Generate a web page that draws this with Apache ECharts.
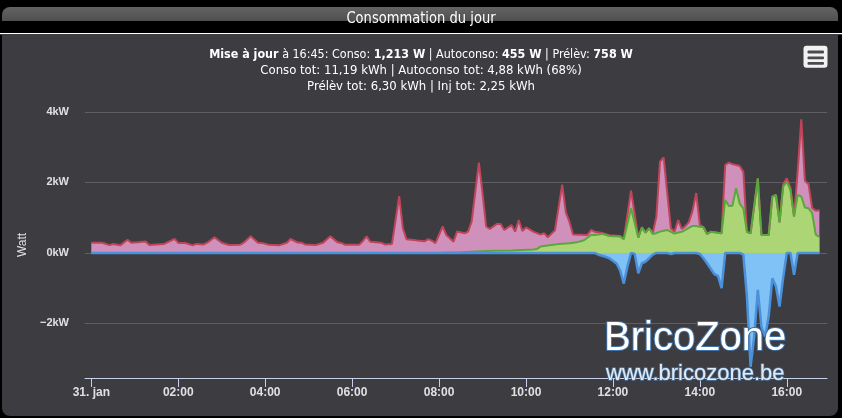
<!DOCTYPE html>
<html><head><meta charset="utf-8">
<script src="https://cdn.jsdelivr.net/npm/echarts@6/dist/echarts.min.js"></script>
<style>html,body{margin:0;padding:0;background:#000;}#c{width:842px;height:418px;}</style>
</head><body><div id="c"></div>
<script>
// x values are minutes since 00:00 on 31 January
const xTickMinutes = [0,120,240,360,480,600,720,840,960];
const yTickValues = [-2000,0,2000,4000];

const consoTimes = [0,15,25,30,40,50,55,65,75,80,100,115,120,130,140,145,155,160,170,180,190,205,210,220,230,235,245,260,270,275,285,290,295,310,320,330,340,345,350,370,375,380,385,400,405,415,425,430,435,445,450,460,465,470,475,485,490,500,505,515,520,525,535,540,545,550,560,565,570,580,585,590,595,600,610,620,625,630,640,650,655,660,665,685,690,695,705,715,730,735,745,755,760,765,770,775,780,785,790,795,800,805,810,815,820,825,830,835,840,845,850,855,860,865,870,875,880,885,890,895,900,905,910,920,925,935,940,945,950,955,960,965,970,975,980,985,990,995,1000,1005];
const consoValues = [290,290,220,255,215,375,290,300,325,225,250,400,285,280,215,255,240,290,440,290,225,230,285,470,290,285,230,220,290,395,295,290,240,225,290,470,300,285,235,235,340,470,320,290,240,250,1610,700,390,370,350,330,390,350,280,750,510,320,610,560,600,890,2560,1700,750,680,825,820,650,790,605,936,624,725,605,520,560,444,640,1940,1150,880,520,510,652,600,565,500,480,400,1768,440,728,577,700,560,1031,2591,2714,1700,700,600,936,680,760,880,1200,1700,794,730,540,600,590,570,557,2496,2563,2520,2496,2468,2300,600,557,2118,510,510,1598,1645,870,1950,2118,1850,1035,2300,3790,2050,1950,1270,1200,1213];

const autoTimes = [0,480,510,555,580,610,615,620,635,645,660,670,680,690,695,705,715,730,735,745,755,760,765,770,775,780,785,795,805,815,830,835,840,845,850,855,860,865,870,875,880,885,890,895,900,905,910,920,925,935,940,945,950,955,960,965,970,975,980,985,990,995,1000,1005];
const autoValues = [0,0,20,60,70,100,110,180,225,250,274,300,360,510,510,540,480,463,390,1267,435,728,577,700,540,560,605,652,550,600,766,766,740,730,540,600,590,570,557,1504,1333,1340,1834,1400,1267,600,557,2118,510,510,1598,1645,870,1881,2024,1787,1035,1645,1600,1290,1270,1125,520,455];

const injTimes = [0,695,700,710,715,725,730,735,740,745,750,755,760,765,770,775,780,795,800,805,835,840,845,850,855,860,865,870,875,895,900,905,910,915,920,925,930,935,940,945,950,955,960,965,970,975,1005];
const injValues = [0,0,-50,-110,-150,-300,-500,-870,-390,0,-20,-577,-293,-246,-150,-50,0,0,-30,0,0,-30,-150,-293,-450,-600,-650,-1000,0,0,-50,-1240,-3230,-2375,-1050,-2100,-2375,-1806,-719,-955,-1523,-700,0,0,-624,0,0];

const subtitleLines = [
  '{b|Mise à jour}{n| à 16:45: Conso: }{b|1,213 W}{n| | Autoconso: }{b|455 W}{n| | Prélèv: }{b|758 W}',
  '{n|Conso tot: 11,19 kWh | Autoconso tot: 4,88 kWh (68%)}',
  '{n|Prélèv tot: 6,30 kWh | Inj tot: 2,25 kWh}'
];

function pairs(ts, vs){ return ts.map((t,i)=>[t, vs[i]]); }
function pad(n){ return (n<10?'0':'')+n; }

const chart = echarts.init(document.getElementById('c'), null, {renderer:'canvas'});
const condensed = '"DejaVu Sans Condensed","DejaVu Sans",sans-serif';
const richStyles = {
  n: {fill:'#ffffff', fontSize:13, fontFamily:condensed},
  b: {fill:'#ffffff', fontSize:13, fontWeight:'bold', fontFamily:condensed}
};
const subY = [55, 71, 86.5];
const subScale = [0.955, 1.0, 1.0];

const graphics = [
  {type:'rect', z:-10, shape:{x:2,y:7,width:836,height:16,r:[8,8,0,0]},
   style:{fill:new echarts.graphic.LinearGradient(0,0,0,1,[{offset:0,color:'#646464'},{offset:1,color:'#4c4c4c'}])}},
  {type:'rect', z:-10, shape:{x:2,y:21,width:836,height:12}, style:{fill:'#000'}},
  {type:'rect', z:-10, shape:{x:0,y:33,width:842,height:1.3}, style:{fill:'#ffffff'}},
  {type:'rect', z:-10, shape:{x:2,y:34.3,width:836,height:381.7,r:[0,0,8,8]}, style:{fill:'#3d3c41'}},
  {type:'text', z:5, x:421, y:19.5, scaleX:0.97, style:{x:0,y:0,text:'Consommation du jour',fill:'#ffffff',font:'15px '+condensed,align:'center',verticalAlign:'middle'}},
  {type:'rect', z:5, shape:{x:803.5,y:45.8,width:24,height:22,r:3}, style:{fill:'#f2f2f2'}},
  {type:'rect', z:6, shape:{x:807.5,y:50.6,width:16.5,height:2.8,r:1}, style:{fill:'#4a4a4e'}},
  {type:'rect', z:6, shape:{x:807.5,y:56.4,width:16.5,height:2.8,r:1}, style:{fill:'#4a4a4e'}},
  {type:'rect', z:6, shape:{x:807.5,y:62.0,width:16.5,height:2.8,r:1}, style:{fill:'#4a4a4e'}},
  {type:'text', z:100, style:{x:604,y:338.5,text:'BricoZone',fill:'#ffffff',stroke:'#3f72a8',lineWidth:2,font:'40px "Liberation Sans",Arial,sans-serif',align:'left',verticalAlign:'middle'}},
  {type:'text', z:100, style:{x:606,y:374,text:'www.bricozone.be',fill:'rgba(255,255,255,0.85)',stroke:'#4a78a8',lineWidth:1.5,font:'22px "Liberation Sans",Arial,sans-serif',align:'left',verticalAlign:'middle'}}
];
subtitleLines.forEach(function(t,i){
  graphics.push({type:'text', z:5, x:421, y:subY[i], scaleX:subScale[i],
    style:{x:0,y:0,text:t,rich:richStyles,align:'center',verticalAlign:'middle'}});
});

chart.setOption({
  backgroundColor: '#000',
  animation: false,
  graphic: graphics,
  grid: {left:85, right:15, top:112, bottom:40, containLabel:false},
  xAxis: {
    type:'value', min:-8.7, max:1015.5,
    axisLine:{onZero:false, lineStyle:{color:'#c6d2ea', width:1}},
    axisTick:{show:true, length:9, lineStyle:{color:'#c6d2ea'}, customValues:xTickMinutes},
    axisLabel:{customValues:xTickMinutes, color:'#e0e0e3', fontSize:12, fontWeight:'bold', fontFamily:'"Liberation Sans",Arial,sans-serif', margin:9,
      formatter:function(v){ if(v===0) return '31. jan'; return pad(Math.round(v/60))+':00'; }},
    splitLine:{show:false}
  },
  yAxis: {
    type:'value', min:-3550, max:4000,
    name:'Watt', nameLocation:'middle', nameGap:53, nameRotate:90,
    nameTextStyle:{color:'#e0e0e3', fontSize:12, fontFamily:'"Liberation Sans",Arial,sans-serif'},
    axisLine:{show:false},
    axisTick:{show:false, customValues:yTickValues},
    axisLabel:{customValues:yTickValues, color:'#e0e0e3', fontSize:11, fontWeight:'bold', fontFamily:'"Liberation Sans",Arial,sans-serif', margin:16,
      formatter:function(v){ return (v<0?'\u2212':'')+Math.abs(v/1000)+'kW'; }},
    splitLine:{show:true, lineStyle:{color:'#5f5f63', width:1}}
  },
  series: [
    {name:'Conso', type:'line', data:pairs(consoTimes, consoValues), showSymbol:false, smooth:false,
     lineStyle:{color:'#c1455a', width:2}, itemStyle:{color:'#c1455a'}, areaStyle:{color:'#cf90bb', opacity:1}},
    {name:'Autoconso', type:'line', data:pairs(autoTimes, autoValues), showSymbol:false, smooth:false,
     lineStyle:{color:'#58a83c', width:2}, itemStyle:{color:'#58a83c'}, areaStyle:{color:'#acd676', opacity:1}},
    {name:'Injection', type:'line', data:pairs(injTimes, injValues), showSymbol:false, smooth:false,
     lineStyle:{color:'#4a90da', width:2.5}, itemStyle:{color:'#4a90da'}, areaStyle:{color:'#80c1f6', opacity:1}}
  ]
});
</script></body></html>
